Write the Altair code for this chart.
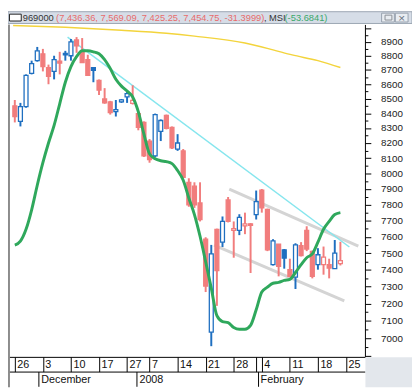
import altair as alt
import pandas as pd

# ---------------- data (trading-day index 0..58) ----------------
kind = ["dn","up","up","up","up","dn","dn","up","dn","up",
        "up","dn","dn","dn","up","dn","dn","dn","up","up",
        "up","dn","dn","dn","dn","up","up","dn","dn","up",
        "dn","dn","dn","dn","dn","up","dn","up","dn","dn",
        "up","dn","dn","up","dn","dn","up","dn","up","dn",
        "up","dn","dn","dn","up","dn","dn","up","dn"]
opens = [8451,8345,8445,8676,8766,8815,8717,8690,8762,8808,
         8801,8914,8829,8773,8717,8627,8498,8478,8411,8478,
         8512,8468,8398,8338,8213,8115,8278,8385,8305,8160,
         8148,7943,7918,7811,7585,7035,7646,7567,7830,7640,
         7640,7668,7680,7738,7893,7770,7430,7555,7520,7400,
         7355,7545,7640,7510,7430,7430,7430,7406,7436.36]
highs = [8491,8471,8669,8766,8864,8850,8738,8801,8829,8836,
         8921,8935,8928,8808,8719,8634,8573,8485,8491,8498,
         8559,8593,8405,8345,8226,8398,8358,8391,8311,8259,
         8160,7969,7943,7943,7597,7550,7650,7726,7849,7695,
         7740,7750,7685,7890,7900,7775,7585,7555,7525,7466,
         7560,7567,7665,7515,7530,7540,7466,7580,7569.09]
lows = [8338,8311,8438,8669,8759,8690,8600,8634,8669,8766,
        8766,8822,8750,8660,8614,8525,8465,8391,8378,8471,
        8471,8460,8285,8108,8070,8108,8213,8291,8160,8148,
        7969,7787,7780,7695,7267,6955,7186,7537,7689,7472,
        7610,7616,7380,7707,7750,7512,7425,7360,7406,7355,
        7285,7480,7512,7348,7400,7370,7348,7406,7425.25]
closes = [8378,8445,8662,8745,8836,8724,8655,8773,8748,8818,
          8900,8871,8752,8662,8697,8559,8471,8405,8425,8491,
          8535,8488,8305,8115,8090,8391,8351,8298,8167,8200,
          7975,7799,7799,7707,7302,7495,7395,7695,7695,7650,
          7720,7680,7670,7820,7780,7520,7575,7420,7470,7360,
          7550,7485,7525,7360,7490,7475,7410,7500,7454.75]
msi = [7549,7573,7646,7768,7924,8070,8200,8318,8465,8614,
       8724,8794,8836,8836,8829,8815,8773,8710,8635,8587,
       8553,8512,8411,8259,8128,8096,8083,8077,8064,8019,
       7956,7843,7738,7603,7448,7290,7129,7095,7089,7061,
       7051,7051,7073,7163,7267,7296,7319,7324,7336,7342,
       7383,7430,7472,7495,7567,7646,7695,7738,7750]

ma_idx = [-0.3, 9, 19, 27, 32, 41, 46, 49.4, 54, 58]
ma_val = [9020, 9006, 8985, 8963, 8942, 8892, 8843, 8807, 8766, 8717]

trend_idx = [9.4, 59.6]
trend_val = [8935, 7537]
chan_id = ["upper", "upper", "lower", "lower"]
chan_idx = [38.2, 61.2, 35.5, 58.7]
chan_val = [7899, 7543, 7549, 7215]

day_pos = [0, 5, 10, 15, 20, 24, 29, 34, 39, 43, 44, 49, 54, 59]
day_lab = ["26", "3", "10", "17", "27", "7", "14", "21", "28", "", "4", "11", "18", "25"]
month_pos = [5, 22, 43]
month_lab = ["December", "2008", "February"]
y_major = list(range(6900, 9001, 100))
y_minor = list(range(6950, 9000, 100))

hdr_text = ["969000", "(7,436.36, 7,569.09, 7,425.25, 7,454.75, -31.3999)", ", MSI", "(-53.6841)"]

# ---------------- styling ----------------
BLUE, RED = "#1f6fc0", "#f17d7d"
GREEN, CYAN, YELLOW, GRAY = "#2fa85c", "#86e6ee", "#f3d43c", "#d4d4d4"
FONT = "Liberation Sans"
W, H = 364, 339

xs = alt.Scale(domain=[-0.34, 61.5], nice=False, zero=False)
ys = alt.Scale(type="log", domain=[6895, 9027], nice=False)
cs = alt.Scale(domain=["up", "dn"], range=[BLUE, RED])


def arr(a):
    return "[" + ",".join(repr(v) if isinstance(v, str) else str(v) for v in a) + "]"


xaxis = alt.Axis(orient="bottom", values=day_pos,
                 labelExpr=f"{arr(day_lab)}[indexof({arr(day_pos)}, datum.value)]",
                 tickSize=15, tickColor="#000", domainColor="#000", domainWidth=1,
                 labelPadding=-13, labelAlign="left", labelBaseline="top", labelOffset=2,
                 labelFont=FONT, labelFontSize=11, labelColor="#111",
                 labelFlush=False, labelOverlap=False, labelBound=False, grid=False, title=None)
maxis = alt.Axis(orient="bottom", offset=15, values=month_pos,
                 labelExpr=f"{arr(month_lab)}[indexof({arr(month_pos)}, datum.value)]",
                 tickSize=15, tickColor="#000", domainColor="#000", domainWidth=1,
                 labelPadding=-13, labelAlign="left", labelBaseline="top", labelOffset=2,
                 labelFont=FONT, labelFontSize=11, labelColor="#111",
                 labelFlush=False, labelOverlap=False, labelBound=False, grid=False, title=None)
yaxis = alt.Axis(orient="right", values=y_major, format="d",
                 labelExpr="datum.value >= 7000 && datum.value <= 8900 ? datum.label : ''",
                 tickSize=6, tickColor="#000", domainColor="#000", labelPadding=10,
                 labelFont=FONT, labelFontSize=10, labelColor="#222", labelAlign="left",
                 labelBaseline="middle", labelFlush=False, labelOverlap=False, labelBound=False,
                 grid=False, title=None)
yminor = alt.Axis(orient="right", values=y_minor, tickSize=3, tickColor="#000",
                  labels=False, domain=False, grid=False, title=None)

df = pd.DataFrame({"i": list(range(len(opens))), "o": opens, "h": highs, "l": lows,
                   "c": closes, "k": kind, "g": msi})
ma = pd.DataFrame({"i": ma_idx, "v": ma_val})
trend = pd.DataFrame({"i": trend_idx, "v": trend_val})
chan = pd.DataFrame({"s": chan_id, "i": chan_idx, "v": chan_val})
dummy = pd.DataFrame({"z": [0]})

X = alt.X("i:Q", scale=xs, axis=xaxis)

channels = alt.Chart(chan).mark_line(color=GRAY, strokeWidth=3).encode(
    x=X, y=alt.Y("v:Q", scale=ys, axis=yaxis), detail="s:N")
yellow = alt.Chart(ma).mark_line(color=YELLOW, strokeWidth=1.5, interpolate="monotone").encode(
    x=X, y=alt.Y("v:Q", scale=ys, axis=yaxis))
cyan = alt.Chart(trend).mark_line(color=CYAN, strokeWidth=1.5).encode(
    x=X, y=alt.Y("v:Q", scale=ys, axis=yaxis))
wicks = alt.Chart(df).mark_rule(strokeWidth=2).encode(
    x=X, y=alt.Y("l:Q", scale=ys, axis=yaxis), y2="h:Q",
    color=alt.Color("k:N", scale=cs, legend=None))
bodies = alt.Chart(df).mark_bar(size=4, strokeWidth=1.3).encode(
    x=X, y=alt.Y("o:Q", scale=ys, axis=yaxis), y2="c:Q",
    stroke=alt.Stroke("k:N", scale=cs, legend=None),
    fill=alt.condition("datum.c > datum.o", alt.value("white"),
                       alt.Fill("k:N", scale=cs, legend=None)))
green = alt.Chart(df).mark_line(color=GREEN, strokeWidth=3, interpolate="monotone").encode(
    x=X, y=alt.Y("g:Q", scale=ys, axis=yaxis))

main = alt.layer(channels, yellow, cyan, wicks, bodies, green)

extra = alt.Chart(pd.DataFrame({"i": month_pos, "v": [7500] * len(month_pos)})).mark_point(
    opacity=0).encode(x=alt.X("i:Q", scale=xs, axis=maxis),
                      y=alt.Y("v:Q", scale=ys, axis=yminor))

# ---------------- window decorations ----------------
deco = []
deco.append(alt.Chart(dummy).mark_rect(fill="#d6dde7", stroke="#9ca6b2", strokeWidth=1).encode(
    x=alt.value(0), x2=alt.value(412), y=alt.value(-13), y2=alt.value(-1)))
deco.append(alt.Chart(dummy).mark_rect(fill="white", stroke="#222", strokeWidth=1).encode(
    x=alt.value(1.5), x2=alt.value(13.5), y=alt.value(-10.5), y2=alt.value(-3.5)))
hdr_x = [15, 49, 261, 282]
hdr_col = ["#333333", "#e86b6b", "#333333", "#3aa86a"]
for t, xp, col in zip(hdr_text, hdr_x, hdr_col):
    deco.append(alt.Chart(dummy).mark_text(text=t, align="left", baseline="middle", font=FONT,
                                           fontSize=9.5, color=col).encode(
        x=alt.value(xp), y=alt.value(-6.5)))
for bx in [381, 395]:
    deco.append(alt.Chart(dummy).mark_rect(fill="#e8ecf1", stroke="#97a1ad", strokeWidth=1).encode(
        x=alt.value(bx), x2=alt.value(bx + 13), y=alt.value(-11.5), y2=alt.value(-2.5)))
deco.append(alt.Chart(dummy).mark_rect(fill="none", stroke="#8a8f96", strokeWidth=1).encode(
    x=alt.value(384.5), x2=alt.value(391.5), y=alt.value(-9.5), y2=alt.value(-4.5)))
deco.append(alt.Chart(dummy).mark_text(text="×", align="center", baseline="middle", font=FONT,
                                       fontSize=12, color="#6b7480").encode(
    x=alt.value(401.5), y=alt.value(-7)))
corner = alt.Chart(dummy).mark_rect(fill="#e3e7ec").encode(
    x=alt.value(W + 0.5), x2=alt.value(412), y=alt.value(H + 0.5), y2=alt.value(H + 31))
border = alt.Chart(dummy).mark_rule(color="#8c8c8c", strokeWidth=2).encode(
    x=alt.value(1), y=alt.value(0), y2=alt.value(H + 31))

chart = alt.layer(main, extra, corner, border, *deco).resolve_scale(
    x="independent", y="independent"
).properties(
    width=W, height=H,
    autosize=alt.AutoSizeParams(type="none"),
    padding={"left": 0, "top": 13, "right": 48, "bottom": 30},
    background="white",
).configure_view(stroke=None)

chart.save("out.html", embed_options={"renderer": "svg", "actions": False})
